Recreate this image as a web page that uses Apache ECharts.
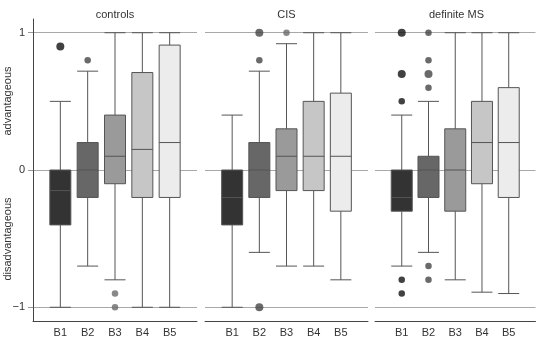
<!DOCTYPE html>
<html>
<head>
<meta charset="utf-8">
<script src="https://cdn.jsdelivr.net/npm/echarts@6/dist/echarts.min.js"></script>
<style>
  html, body { margin: 0; background: #fff; }
  #chart { width: 540px; height: 339px; }
</style>
</head>
<body>
<div id="chart"></div>
<script>
const categories = ["B1", "B2", "B3", "B4", "B5"];
const panelTitles = ["controls", "CIS", "definite MS"];
const yTicks = [-1, 0, 1];

// [min, Q1, median, Q3, max] for B1..B5
const controlsBoxes = [
  [-1, -0.4, -0.15, 0, 0.5],
  [-0.7, -0.2, 0, 0.2, 0.72],
  [-0.8, -0.1, 0.1, 0.4, 1],
  [-1, -0.2, 0.15, 0.71, 1],
  [-1, -0.2, 0.2, 0.91, 1],
];
const cisBoxes = [
  [-1, -0.4, -0.2, 0, 0.4],
  [-0.6, -0.2, 0, 0.2, 0.72],
  [-0.7, -0.15, 0.1, 0.3, 0.92],
  [-0.7, -0.15, 0.1, 0.5, 1],
  [-0.8, -0.3, 0.1, 0.56, 1],
];
const msBoxes = [
  [-0.7, -0.3, -0.2, 0, 0.4],
  [-0.6, -0.2, 0, 0.1, 0.5],
  [-0.8, -0.3, 0, 0.3, 1],
  [-0.89, -0.1, 0.2, 0.5, 1],
  [-0.9, -0.2, 0.2, 0.6, 1],
];

// outliers: [box number (1-5), value, count]
const controlsOutliers = [
  [1, 0.9, 2],
  [2, 0.8, 1],
  [3, -0.9, 1],
  [3, -1, 1],
];
const cisOutliers = [
  [2, 1, 2],
  [2, 0.8, 1],
  [2, -1, 2],
  [3, 1, 1],
];
const msOutliers = [
  [1, 1, 2],
  [1, 0.7, 2],
  [1, 0.5, 1],
  [1, -0.8, 1],
  [1, -0.9, 1],
  [2, 1, 1],
  [2, 0.8, 1],
  [2, 0.7, 2],
  [2, 0.6, 1],
  [2, -0.7, 1],
  [2, -0.8, 1],
];

const boxFill = ["#333333", "#676767", "#9a9a9a", "#c6c6c6", "#ececec"];
const dotFill = ["#111111", "#454545", "#6a6a6a", "#999999", "#bbbbbb"];
const font = "Liberation Sans";

const chart = echarts.init(document.getElementById("chart"));

const panelBoxes = [controlsBoxes, cisBoxes, msBoxes];
const panelOutliers = [controlsOutliers, cisOutliers, msOutliers];
const gridPos = [
  { left: 33, width: 164 },
  { left: 205, width: 163 },
  { left: 375, width: 163 },
];

const grids = [], xAxes = [], yAxes = [], series = [], texts = [];
const blank = { value: ["-", "-", "-", "-", "-"] };

panelTitles.forEach(function (title, i) {
  grids.push({ left: gridPos[i].left, width: gridPos[i].width, top: 19, height: 302 });
  xAxes.push({
    type: "category",
    gridIndex: i,
    data: [""].concat(categories, [" "]),
    boundaryGap: false,
    axisTick: { show: false },
    axisLine: { onZero: false, lineStyle: { color: "#444", width: 1 } },
    axisLabel: { color: "#333", fontSize: 11, fontFamily: font, margin: 6, interval: 0 },
    splitLine: { show: false },
  });
  yAxes.push({
    type: "value",
    gridIndex: i,
    min: -1.1,
    max: 1.1,
    axisLine: { show: i === 0, onZero: false, lineStyle: { color: "#444", width: 1 } },
    axisTick: { show: i === 0, length: 5, customValues: yTicks, lineStyle: { color: "#999" } },
    axisLabel: {
      show: i === 0,
      customValues: yTicks,
      color: "#333",
      fontSize: 11,
      fontFamily: font,
      margin: 8,
      formatter: function (v) { return v < 0 ? "\u2212" + (-v) : String(v); },
    },
    splitLine: { show: true, lineStyle: { color: "#a8a8a8", width: 1 } },
  });
  series.push({
    type: "boxplot",
    xAxisIndex: i,
    yAxisIndex: i,
    boxWidth: [21, 21],
    itemStyle: { borderColor: "#555", borderWidth: 1 },
    emphasis: { disabled: true },
    data: [blank].concat(panelBoxes[i].map(function (b, k) {
      return { value: b, itemStyle: { color: boxFill[k] } };
    }), [blank]),
    z: 3,
  });
  series.push({
    type: "scatter",
    xAxisIndex: i,
    yAxisIndex: i,
    data: panelOutliers[i],
    symbolSize: function (v) { return v[2] > 1 ? 8 : 6.5; },
    itemStyle: {
      color: function (p) { return dotFill[p.value[0] - 1]; },
    },
    emphasis: { disabled: true },
    z: 4,
  });
  texts.push({
    type: "text",
    x: gridPos[i].left + gridPos[i].width / 2,
    y: 15,
    style: {
      text: title, fill: "#333", font: "11px " + font,
      textAlign: "center", textVerticalAlign: "middle",
    },
  });
});

texts.push({
  type: "text", x: 8, y: 101, rotation: Math.PI / 2,
  style: { text: "advantageous", fill: "#333", font: "11px " + font, textAlign: "center", textVerticalAlign: "middle" },
});
texts.push({
  type: "text", x: 8, y: 239, rotation: Math.PI / 2,
  style: { text: "disadvantageous", fill: "#333", font: "11px " + font, textAlign: "center", textVerticalAlign: "middle" },
});

chart.setOption({
  animation: false,
  backgroundColor: "#fff",
  grid: grids,
  xAxis: xAxes,
  yAxis: yAxes,
  series: series,
  graphic: texts,
});
</script>
</body>
</html>
